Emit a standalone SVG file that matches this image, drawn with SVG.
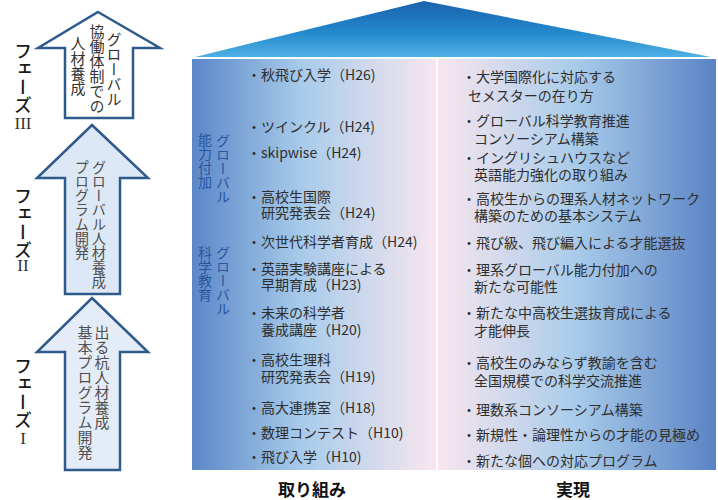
<svg xmlns="http://www.w3.org/2000/svg" width="718" height="500" viewBox="0 0 718 500">
<defs>
<linearGradient id="roofG" x1="0" y1="0" x2="0" y2="1">
<stop offset="0" stop-color="#1a62ac"/>
<stop offset="0.55" stop-color="#2388cc"/>
<stop offset="1" stop-color="#4fb0e4"/>
</linearGradient>
<linearGradient id="leftG" x1="0" y1="0" x2="1" y2="0">
<stop offset="0" stop-color="#5b87c8"/>
<stop offset="0.45" stop-color="#a8cbea"/>
<stop offset="1" stop-color="#f8e6ee"/>
</linearGradient>
<linearGradient id="rightG" x1="0" y1="0" x2="1" y2="0">
<stop offset="0" stop-color="#f8e6ee"/>
<stop offset="0.5" stop-color="#a8cbea"/>
<stop offset="1" stop-color="#5a83c4"/>
</linearGradient>
</defs>
<style>
text{font-family:"Noto Sans CJK JP","Noto Sans",sans-serif}
.arrow{stroke:#2e5a8c;stroke-width:2.5;stroke-linejoin:miter}
.vt{writing-mode:vertical-rl;text-orientation:upright}
.atxt{font-size:15px;fill:#505050}
.phase{font-size:18px;font-weight:500;fill:#1a1a1a}
.roman{font-family:"Liberation Serif",serif;font-size:17px;fill:#333;text-anchor:middle}
.item{font-size:14px;fill:#2e2e2e}
.cat{font-size:14px;fill:#2857a0}
.head{font-size:17px;font-weight:bold;fill:#111;text-anchor:middle}
</style>
<rect width="718" height="500" fill="#fff"/>

<g id="phase3">
<text class="phase vt" x="23" y="42">フェーズ</text>
<text class="roman" x="23" y="129">III</text>
</g>
<g id="phase2">
<text class="phase vt" x="23" y="187">フェーズ</text>
<text class="roman" x="23" y="271">II</text>
</g>
<g id="phase1">
<text class="phase vt" x="23" y="357">フェーズ</text>
<text class="roman" x="23" y="444">I</text>
</g>

<g id="arrow3">
<path class="arrow" d="M98,12 L160,48 L133,48 L133,118 L65,118 L65,48 L38,48 Z" fill="#ffffff"/>
<text class="atxt vt" x="114" y="32" style="fill:#333">グローバル</text>
<text class="atxt vt" x="97" y="24" style="fill:#333">協働体制での</text>
<text class="atxt vt" x="78" y="36" style="fill:#333">人材養成</text>
</g>
<g id="arrow2">
<path class="arrow" d="M92,125 L148,178 L120,178 L120,294 L65,294 L65,178 L37,178 Z" fill="#dce8f5"/>
<text class="atxt vt" x="99" y="160" style="font-size:14.3px">グローバル人材養成</text>
<text class="atxt vt" x="82" y="160" style="font-size:14.3px">プログラム開発</text>
</g>
<g id="arrow1">
<path class="arrow" d="M92,298 L148,352 L120,352 L120,470 L65,470 L65,352 L37,352 Z" fill="#e4edf7"/>
<text class="atxt vt" x="102" y="325">出る杭人材養成</text>
<text class="atxt vt" x="85" y="325">基本プログラム開発</text>
</g>

<g id="roof">
<polygon points="195,57 424,1 711,57" fill="url(#roofG)"/>
</g>

<g id="panelLeft">
<rect x="192" y="59" width="244" height="411" fill="url(#leftG)"/>
<text class="cat vt" x="223" y="134">グローバル</text>
<text class="cat vt" x="205" y="133">能力付加</text>
<text class="cat vt" x="223" y="246">グローバル</text>
<text class="cat vt" x="205" y="246">科学教育</text>
<text class="item" x="247" y="80">・秋飛び入学（H26)</text>
<text class="item" x="247" y="132">・ツインクル（H24)</text>
<text class="item" x="247" y="158">・skipwise（H24)</text>
<text class="item" x="247" y="202">・高校生国際</text>
<text class="item" x="261" y="218">研究発表会（H24)</text>
<text class="item" x="247" y="247">・次世代科学者育成（H24)</text>
<text class="item" x="247" y="274">・英語実験講座による</text>
<text class="item" x="261" y="290">早期育成（H23)</text>
<text class="item" x="247" y="318">・未来の科学者</text>
<text class="item" x="261" y="335">養成講座（H20)</text>
<text class="item" x="247" y="365">・高校生理科</text>
<text class="item" x="261" y="382">研究発表会（H19)</text>
<text class="item" x="247" y="413">・高大連携室（H18)</text>
<text class="item" x="247" y="438">・数理コンテスト（H10)</text>
<text class="item" x="247" y="462">・飛び入学（H10)</text>
</g>

<g id="panelRight">
<rect x="438" y="59" width="278" height="411" fill="url(#rightG)"/>
<text class="item" x="462" y="82">・大学国際化に対応する</text>
<text class="item" x="468" y="101">セメスターの在り方</text>
<text class="item" x="462" y="126">・グローバル科学教育推進</text>
<text class="item" x="474" y="144">コンソーシアム構築</text>
<text class="item" x="462" y="163">・イングリシュハウスなど</text>
<text class="item" x="474" y="180">英語能力強化の取り組み</text>
<text class="item" x="462" y="204">・高校生からの理系人材ネットワーク</text>
<text class="item" x="474" y="221">構築のための基本システム</text>
<text class="item" x="462" y="248">・飛び級、飛び編入による才能選抜</text>
<text class="item" x="462" y="275">・理系グローバル能力付加への</text>
<text class="item" x="474" y="292">新たな可能性</text>
<text class="item" x="462" y="318">・新たな中高校生選抜育成による</text>
<text class="item" x="474" y="336">才能伸長</text>
<text class="item" x="462" y="368">・高校生のみならず教諭を含む</text>
<text class="item" x="474" y="386">全国規模での科学交流推進</text>
<text class="item" x="462" y="415">・理数系コンソーシアム構築</text>
<text class="item" x="462" y="440">・新規性・論理性からの才能の見極め</text>
<text class="item" x="462" y="466">・新たな個への対応プログラム</text>
</g>

<g id="labels">
<text class="head" x="312" y="496">取り組み</text>
<text class="head" x="573" y="496">実現</text>
</g>
</svg>
